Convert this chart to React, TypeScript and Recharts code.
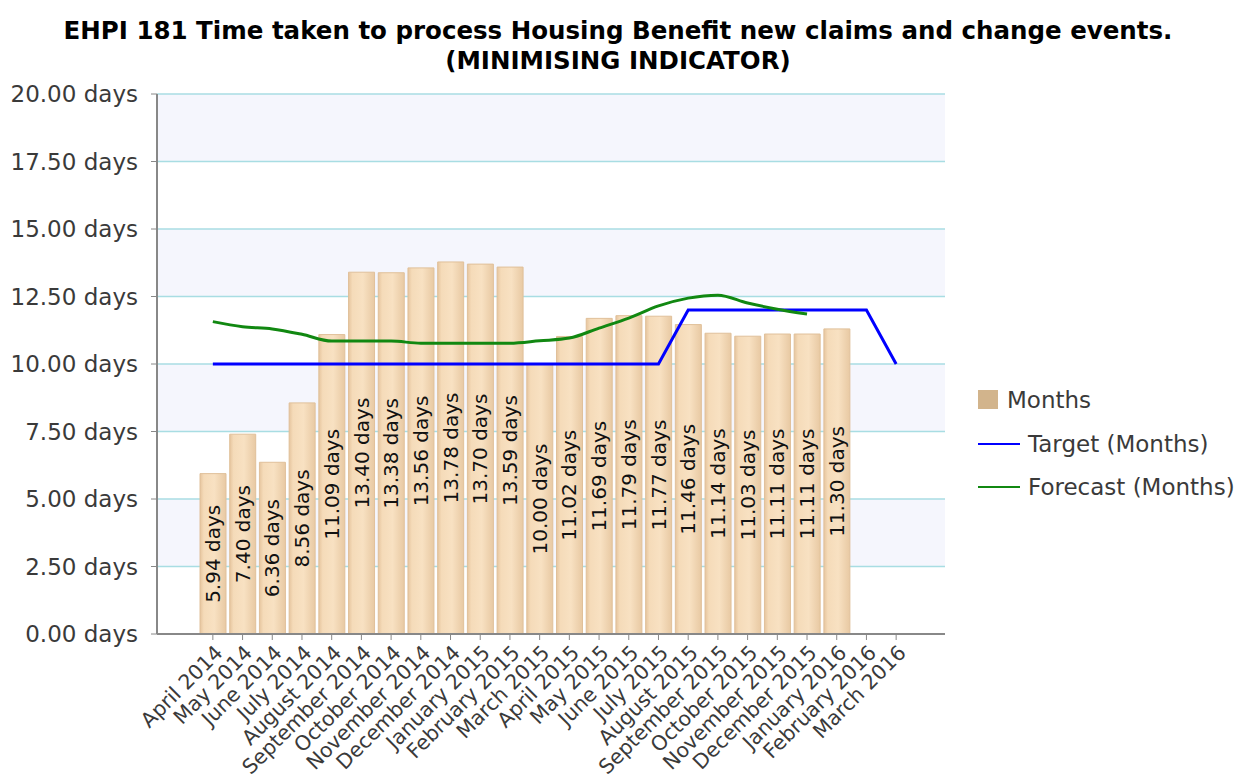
import React from 'react';
import { ComposedChart, Bar, Line, XAxis, YAxis, CartesianGrid, LabelList, Legend } from 'recharts';

const months = [
  'April 2014', 'May 2014', 'June 2014', 'July 2014', 'August 2014', 'September 2014',
  'October 2014', 'November 2014', 'December 2014', 'January 2015', 'February 2015', 'March 2015',
  'April 2015', 'May 2015', 'June 2015', 'July 2015', 'August 2015', 'September 2015',
  'October 2015', 'November 2015', 'December 2015', 'January 2016', 'February 2016', 'March 2016',
];
const actual: (number | null)[] = [
  5.94, 7.4, 6.36, 8.56, 11.09, 13.4, 13.38, 13.56, 13.78, 13.7, 13.59, 10.0,
  11.02, 11.69, 11.79, 11.77, 11.46, 11.14, 11.03, 11.11, 11.11, 11.3, null, null,
];
const target: (number | null)[] = [
  10, 10, 10, 10, 10, 10, 10, 10, 10, 10, 10, 10,
  10, 10, 10, 10, 12, 12, 12, 12, 12, 12, 12, 10,
];
const forecast: (number | null)[] = [
  11.57, 11.38, 11.3, 11.1, 10.85, 10.85, 10.85, 10.77, 10.77, 10.77, 10.77, 10.86,
  10.96, 11.33, 11.7, 12.15, 12.44, 12.55, 12.26, 12.03, 11.85, null, null, null,
];
const yTicks = [0, 2.5, 5, 7.5, 10, 12.5, 15, 17.5, 20];

const data = months.map((m, i) => ({
  month: m,
  Months: actual[i],
  Target: target[i],
  Forecast: forecast[i],
}));

const FONT = '"DejaVu Sans", Verdana, sans-serif';

const XTick = (props: any) => {
  const { x, y, payload } = props;
  return (
    <g transform={`translate(${x + 11},${y + 12})`}>
      <text x={0} y={0} textAnchor="end" transform="rotate(-45)" fontSize={20.5} fill="#3a3a3a" fontFamily={FONT}>
        {payload.value}
      </text>
    </g>
  );
};

const BarLabel = (props: any) => {
  const { x, y, width, height, value } = props;
  if (value == null) return null;
  const cx = x + width / 2;
  const cy = y + height / 2;
  return (
    <text x={cx} y={cy} transform={`rotate(-90, ${cx}, ${cy})`} textAnchor="middle" dominantBaseline="central"
      fontSize={20} fill="#111" fontFamily={FONT}>
      {Number(value).toFixed(2)} days
    </text>
  );
};

const LegendContent = () => (
  <svg width={262} height={120} style={{ display: 'block' }}>
    <rect x={0} y={2} width={20} height={19} fill="#d2b48c" />
    <text x={29} y={12} dominantBaseline="central" fontSize={23} fill="#3a3a3a" fontFamily={FONT}>Months</text>
    <line x1={0} x2={42} y1={56} y2={56} stroke="#0000ff" strokeWidth={2} />
    <text x={50} y={56} dominantBaseline="central" fontSize={23} fill="#3a3a3a" fontFamily={FONT}>Target (Months)</text>
    <line x1={0} x2={42} y1={99} y2={99} stroke="#118811" strokeWidth={2} />
    <text x={50} y={99} dominantBaseline="central" fontSize={23} fill="#3a3a3a" fontFamily={FONT}>Forecast (Months)</text>
  </svg>
);

export default function App() {
  return (
    <div style={{ position: 'relative', width: 1232, height: 774, background: '#fff' }}>
      <div style={{ position: 'absolute', left: 0, top: 8, width: 1220, textAlign: 'center', fontFamily: FONT, fontWeight: 'bold', fontSize: 24.5, lineHeight: '30px', color: '#000' }}>
        <div>EHPI 181 Time taken to process Housing Benefit new claims and change events.</div>
        <div>(MINIMISING INDICATOR)</div>
      </div>
      <ComposedChart width={1232} height={774} data={data} margin={{ top: 86, right: 295, bottom: 8, left: 0 }}>
        <defs>
          <linearGradient id="barGrad" x1="0" y1="0" x2="1" y2="0">
            <stop offset="0%" stopColor="#e6c59e" />
            <stop offset="15%" stopColor="#f5dbb9" />
            <stop offset="55%" stopColor="#f8e1c2" />
            <stop offset="100%" stopColor="#e8c9a3" />
          </linearGradient>
        </defs>
        <CartesianGrid vertical={false} stroke="#a8dde3" strokeWidth={1.5}
          horizontalFill={['#f5f6fd', '#ffffff']} fillOpacity={1} />
        <XAxis dataKey="month" type="category" interval={0} height={140} tick={<XTick />}
          padding={{ left: 41, right: 34 }} axisLine={{ stroke: '#888', strokeWidth: 2 }}
          tickLine={{ stroke: '#888' }} tickSize={6} />
        <YAxis type="number" domain={[0, 20]} ticks={yTicks} width={149} interval={0}
          tickFormatter={(v: number) => `${v.toFixed(2)} days`}
          tick={{ fontSize: 23, fill: '#3a3a3a', fontFamily: FONT }}
          axisLine={{ stroke: '#888', strokeWidth: 2 }} tickLine={{ stroke: '#888' }}
          tickSize={6} tickMargin={13} />
        <Bar dataKey="Months" barSize={26} fill="url(#barGrad)" stroke="#e0c09a" strokeWidth={1} isAnimationActive={false}>
          <LabelList dataKey="Months" content={<BarLabel />} />
        </Bar>
        <Line dataKey="Target" type="linear" stroke="#0000ff" strokeWidth={3} dot={false} isAnimationActive={false} />
        <Line dataKey="Forecast" type="monotone" stroke="#118811" strokeWidth={3} dot={false} isAnimationActive={false} connectNulls={false} />
        <Legend layout="vertical" align="center" verticalAlign="middle" content={<LegendContent />}
          wrapperStyle={{ position: 'absolute', left: 970, top: 380, width: 262, height: 120 }} />
      </ComposedChart>
    </div>
  );
}
